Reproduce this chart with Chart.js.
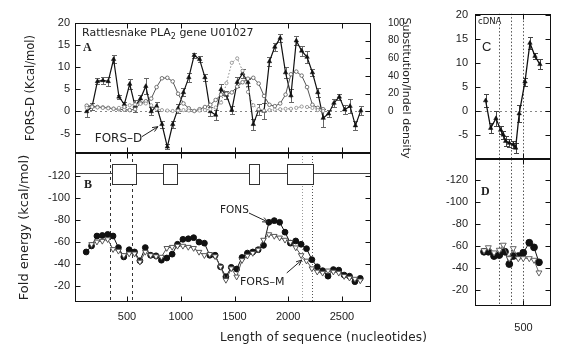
<!DOCTYPE html>
<html>
<head>
<meta charset="utf-8">
<script src="https://cdn.jsdelivr.net/npm/chart.js@4.4.1/dist/chart.umd.min.js"></script>
<style>
  html, body { margin: 0; padding: 0; background: #fff; }
  #wrap { position: relative; width: 564px; height: 348px; overflow: hidden; background: #fff; }
  #wrap canvas { position: absolute; left: 0; top: 0; }
  #xTitle { position: absolute; left: 220px; top: 330px; font: 12px "DejaVu Sans", sans-serif; letter-spacing: 0.2px; color: #222; white-space: nowrap; }
</style>
</head>
<body>
<div id="wrap">
  <canvas id="chartA" width="564" height="348"></canvas>
  <canvas id="chartB" width="564" height="348"></canvas>
  <canvas id="chartC" width="564" height="348"></canvas>
  <canvas id="chartD" width="564" height="348"></canvas>
  <div id="xTitle">Length of sequence (nucleotides)</div>
</div>
<script>
// tick labels
const lengthTicks = [500, 1000, 1500, 2000, 2500];
const forsDTicks = [-5, 0, 5, 10, 15, 20];
const densityTicks = [0, 20, 40, 60, 80, 100];
const foldTicks = [-120, -100, -80, -60, -40, -20];
const cdnaLengthTicks = [500];

// panel A: genomic FORS-D (kcal/mol) with error bars
const forsDPos = [125, 175, 225, 275, 325, 375, 425, 475, 525, 575, 625, 675, 725, 775, 825, 875, 925, 975, 1025, 1075,
  1125, 1175, 1225, 1275, 1325, 1375, 1425, 1475, 1525, 1575, 1625, 1675, 1725, 1775, 1825, 1875, 1925, 1975, 2025, 2075,
  2125, 2175, 2225, 2275, 2325, 2375, 2425, 2475, 2525, 2575, 2625, 2675];
const forsD = [0, 1.1, 6.8, 7.0, 6.8, 11.8, 3.3, 1.6, 6.2, 1.2, 2.9, 5.7, 0, 1.2, -2.9, -8.0, -2.9, 0.7, 4.3, 7.7,
  12.7, 11.8, 7.7, 0, -0.8, 5.0, 3.7, 0.3, 6.6, 8.6, 6.6, -2.9, 0.4, 0.1, 11.3, 14.6, 16.6, 8.8, 3.6, 16.0,
  13.7, 12.3, 8.8, 4.3, -1.5, -0.5, 1.9, 3.3, 0.4, 1.2, -3.2, 0.2];
const forsDErr = [1.3, 0.8, 0.7, 0.7, 1.0, 0.9, 0.5, 0.6, 1.1, 1.3, 0.8, 1.8, 0.9, 1.0, 0.8, 0.6, 0.8, 1.0, 0.9, 1.0,
  0.6, 0.7, 0.8, 1.0, 1.2, 1.3, 1.0, 0.9, 1.1, 1.0, 0.8, 1.2, 1.2, 1.9, 1.0, 0.9, 1.0, 1.2, 1.5, 1.0,
  1.2, 1.3, 0.8, 1.0, 2.0, 0.8, 1.0, 0.7, 1.0, 1.5, 1.0, 1.0];

// panel A: substitution and indel density (right axis)
const densityPos = [125, 175, 225, 275, 325, 375, 425, 475, 525, 575, 625, 675, 725, 775, 825, 875, 925, 975, 1025, 1075,
  1125, 1175, 1225, 1275, 1325, 1375, 1425, 1475, 1525, 1575, 1625, 1675, 1725, 1775, 1825, 1875, 1925, 1975, 2025, 2075,
  2125, 2175, 2225, 2275, 2325];
const substitutionDensity = [6.5, 6, 5, 4.5, 4, 3, 2.5, 2, 1.5, 2.5, 9.5, 11.5, 14.5, 27.5, 37.5, 38, 34, 20, 9, 3.5,
  0.5, 2.5, 5, 7.5, 13, 19, 20, 21.5, 28, 33, 37, 38, 31.5, 17.5, 7.5, 6, 9, 19, 42, 45,
  40.5, 27.5, 7.5, 4, 2.5];
const indelDensity = [4, 5, 4.5, 4, 3.5, 3, 4, 5, 7, 8, 8.5, 9, 7, 3, 1.5, 1, 0.5, 1, 1.5, 1,
  0.5, 1, 1.5, 2.5, 4.5, 10, 32, 55, 60, 46, 22, 7, 2.5, 1, 1.5, 2, 2.5, 3, 3, 4,
  5.5, 5, 4, 1.5, 0.5];

// panel B: fold energies (kcal/mol)
const fonsPos = [120, 170, 220, 270, 320, 370, 420, 470, 520, 570, 620, 670, 720, 770, 820, 870, 920, 970, 1020, 1070,
  1120, 1170, 1220, 1270, 1320, 1370, 1420, 1470, 1520, 1570, 1620, 1670, 1720, 1770, 1820, 1870, 1920, 1970, 2020, 2070,
  2120, 2170, 2220, 2270, 2320, 2370, 2420, 2470, 2520, 2570, 2620, 2670];
const fons = [-51, -56.5, -65.5, -66, -67, -65.5, -55, -46.5, -53, -51, -43, -55, -48, -47.5, -43.5, -45.5, -49, -58, -62.5, -63,
  -64, -60, -59, -48, -48, -37.5, -28.5, -37, -35.5, -46, -50, -51, -53, -57, -78, -79.5, -78, -69, -59, -61,
  -58, -54, -44, -37.5, -34, -29, -35, -34.5, -30, -29, -24, -27];
const forsMPos = [170, 220, 270, 320, 370, 420, 470, 520, 570, 620, 670, 720, 770, 820, 870, 920, 970, 1020, 1070,
  1120, 1170, 1220, 1270, 1320, 1370, 1420, 1470, 1520, 1570, 1620, 1670, 1720, 1770, 1820, 1870, 1920, 1970, 2020, 2070,
  2120, 2170, 2220, 2270, 2320, 2370, 2420, 2470, 2520, 2570, 2620, 2670];
const forsM = [-58, -60.3, -61, -62.5, -53.5, -52, -48, -49.5, -49.5, -42, -51, -48, -47, -46.5, -54.5, -55.5, -56.5, -56.5, -55.5,
  -54.5, -51, -48, -49, -47, -37.5, -25.5, -36, -28.5, -43.5, -47.5, -50, -53, -62, -67, -65.5, -64, -62, -60, -55,
  -48, -43, -36, -33, -32, -34, -33, -32, -29, -27.5, -26.5, -25];

// gene structure (exons, nucleotides) and boundary markers
const exons = [[361, 585], [835, 965], [1635, 1728], [1989, 2231]];
const genomicMarks = [342, 544, 2131, 2224];

// panels C and D: cDNA
const cdnaDPos = [148, 195, 244, 288, 312, 334, 368, 405, 427, 460, 514, 560, 607, 653];
const cdnaD = [2.2, -3.5, -1.5, -3.9, -4.9, -6.2, -6.6, -6.9, -7.6, -0.5, 6.1, 14.1, 11.4, 9.7];
const cdnaDErr = [1.3, 1.0, 1.6, 0.8, 0.8, 1.0, 0.9, 0.8, 1.0, 1.8, 0.8, 1.2, 0.7, 1.0];
const cdnaFonsPos = [133, 173, 226, 275, 328, 368, 405, 452, 498, 554, 598, 644];
const cdnaFons = [-54.8, -54.8, -50.9, -51.8, -54.8, -43.6, -50.9, -50.9, -53.9, -63, -58.8, -45.2];
const cdnaFmPos = [133, 173, 226, 275, 312, 368, 405, 452, 498, 554, 598, 644];
const cdnaFm = [-56, -58.7, -54, -56.4, -61, -48.8, -57.9, -48.8, -48.8, -48.8, -47.3, -35.8];
const cdnaMarks = [272, 388, 491];

Chart.defaults.font.family = "'Liberation Sans', Arial, sans-serif";
Chart.defaults.font.size = 11;
Chart.defaults.color = '#222';
Chart.defaults.plugins.legend.display = false;
Chart.defaults.plugins.tooltip.enabled = false;

const pts = (xs, ys) => xs.map((x, i) => ({ x: x, y: ys[i] }));
const fixedTicks = vals => scale => { scale.ticks = vals.map(v => ({ value: v })); };
const plainTick = v => String(v);
const noGrid = { display: false, drawTicks: false };
const SERIF = "bold 12px 'Liberation Serif', serif";
const DJ = "'DejaVu Sans', sans-serif";

// extra drawing per canvas: frame, inner ticks, reference lines, error bars, labels
const decor = {};

function arrow(ctx, x1, y1, x2, y2) {
  const ang = Math.atan2(y2 - y1, x2 - x1);
  ctx.beginPath();
  ctx.moveTo(x1, y1); ctx.lineTo(x2, y2);
  ctx.moveTo(x2, y2); ctx.lineTo(x2 - 6 * Math.cos(ang - 0.4), y2 - 6 * Math.sin(ang - 0.4));
  ctx.moveTo(x2, y2); ctx.lineTo(x2 - 6 * Math.cos(ang + 0.4), y2 - 6 * Math.sin(ang + 0.4));
  ctx.stroke();
}

const panelPlugin = {
  id: 'panelDecor',
  beforeDatasetsDraw(chart) {
    const d = decor[chart.canvas.id];
    if (!d) return;
    const { ctx, chartArea: a } = chart;
    const xs = chart.scales.x, ys = chart.scales.y;
    ctx.save();
    ctx.beginPath();
    ctx.rect(a.left, a.top, a.right - a.left, a.bottom - a.top);
    ctx.clip();
    ctx.lineWidth = 1;
    (d.hLines || []).forEach(l => {
      const py = Math.round(ys.getPixelForValue(l.value)) + 0.5;
      ctx.strokeStyle = l.color; ctx.setLineDash(l.dash);
      ctx.beginPath(); ctx.moveTo(a.left, py); ctx.lineTo(a.right, py); ctx.stroke();
    });
    (d.vLines || []).forEach(l => {
      const px = Math.round(xs.getPixelForValue(l.value)) + 0.5;
      ctx.strokeStyle = l.color; ctx.setLineDash(l.dash);
      ctx.beginPath(); ctx.moveTo(px, a.top); ctx.lineTo(px, a.bottom); ctx.stroke();
    });
    ctx.setLineDash([]);
    if (d.gene) {
      const g = d.gene;
      const py = Math.round(ys.getPixelForValue(g.level)) + 0.5;
      ctx.strokeStyle = '#444';
      ctx.beginPath(); ctx.moveTo(a.left, py); ctx.lineTo(a.right, py); ctx.stroke();
      const t = Math.round(ys.getPixelForValue(g.top)) + 0.5;
      const b = Math.round(ys.getPixelForValue(g.bottom)) + 0.5;
      g.exons.forEach(e => {
        const l = Math.round(xs.getPixelForValue(e[0])) + 0.5;
        const r = Math.round(xs.getPixelForValue(e[1])) + 0.5;
        ctx.fillStyle = '#fff'; ctx.fillRect(l, t, r - l, b - t);
        ctx.strokeStyle = '#333'; ctx.strokeRect(l, t, r - l, b - t);
      });
    }
    (d.errorBars || []).forEach(eb => {
      ctx.strokeStyle = eb.color; ctx.lineWidth = 1;
      ctx.beginPath();
      eb.pos.forEach((p, i) => {
        const px = Math.round(xs.getPixelForValue(p)) + 0.5;
        const y1 = Math.round(ys.getPixelForValue(eb.val[i] + eb.err[i])) + 0.5;
        const y2 = Math.round(ys.getPixelForValue(eb.val[i] - eb.err[i])) + 0.5;
        ctx.moveTo(px, y1); ctx.lineTo(px, y2);
        ctx.moveTo(px - 2.5, y1); ctx.lineTo(px + 2.5, y1);
        ctx.moveTo(px - 2.5, y2); ctx.lineTo(px + 2.5, y2);
      });
      ctx.stroke();
    });
    ctx.restore();
  },
  afterDatasetsDraw(chart) {
    const d = decor[chart.canvas.id];
    if (!d) return;
    const { ctx, chartArea: a } = chart;
    const xs = chart.scales.x, ys = chart.scales.y;
    const L = Math.round(a.left) + 0.5, R = Math.round(a.right) - 0.5;
    const T = Math.round(a.top) + 0.5, B = Math.round(a.bottom) - 0.5;
    const len = 5;
    ctx.save();
    ctx.strokeStyle = '#111'; ctx.lineWidth = 1; ctx.setLineDash([]);
    ctx.strokeRect(L, T, R - L, B - T);
    ctx.beginPath();
    d.frame.xTicks.forEach(v => {
      const p = Math.round(xs.getPixelForValue(v)) + 0.5;
      ctx.moveTo(p, T); ctx.lineTo(p, T + len);
      ctx.moveTo(p, B); ctx.lineTo(p, B - len);
    });
    d.frame.yTicks.forEach(v => {
      const p = Math.round(ys.getPixelForValue(v)) + 0.5;
      ctx.moveTo(L, p); ctx.lineTo(L + len, p);
      if (!d.frame.rightScale) { ctx.moveTo(R, p); ctx.lineTo(R - len, p); }
    });
    if (d.frame.rightScale) {
      const rs = chart.scales[d.frame.rightScale];
      d.frame.rightTicks.forEach(v => {
        const p = Math.round(rs.getPixelForValue(v)) + 0.5;
        ctx.moveTo(R, p); ctx.lineTo(R - len, p);
      });
    }
    ctx.stroke();
    ctx.fillStyle = '#222';
    ctx.textBaseline = 'middle';
    ctx.textAlign = 'left';
    (d.texts || []).forEach(t => {
      let cx = xs.getPixelForValue(t.at[0]);
      const cy = ys.getPixelForValue(t.at[1]);
      t.parts.forEach(part => {
        ctx.font = part.font;
        ctx.fillText(part.text, cx, cy + (part.dy || 0));
        cx += ctx.measureText(part.text).width;
      });
    });
    ctx.strokeStyle = '#222';
    (d.arrows || []).forEach(ar => {
      arrow(ctx, xs.getPixelForValue(ar.from[0]), ys.getPixelForValue(ar.from[1]),
        xs.getPixelForValue(ar.to[0]), ys.getPixelForValue(ar.to[1]));
    });
    ctx.restore();
  }
};

const baseOptions = (padding, scales) => ({
  responsive: false,
  animation: false,
  devicePixelRatio: 1,
  events: [],
  layout: { padding: padding },
  scales: scales,
  plugins: { legend: { display: false }, tooltip: { enabled: false } }
});

const hiddenX = (min, max) => ({
  type: 'linear', min: min, max: max, ticks: { display: false },
  grid: noGrid, border: { display: false },
  afterFit: s => { s.height = 0; }
});

// ---------- panel A ----------
decor.chartA = {
  frame: { xTicks: lengthTicks, yTicks: forsDTicks, rightScale: 'y2', rightTicks: densityTicks },
  hLines: [{ value: 0, color: '#888', dash: [2, 3] }],
  errorBars: [{ pos: forsDPos, val: forsD, err: forsDErr, color: '#666' }],
  texts: [
    { at: [81, 17.6], parts: [
      { text: 'Rattlesnake PLA', font: '11px ' + DJ },
      { text: '2', font: '8px ' + DJ, dy: 3 },
      { text: ' gene U01027', font: '11px ' + DJ }] },
    { at: [90, 14.45], parts: [{ text: 'A', font: SERIF }] },
    { at: [200, -6.1], parts: [{ text: 'FORS\u2013D', font: '12px ' + DJ }] }
  ],
  arrows: [{ from: [639, -5.7], to: [788, -3.44] }]
};
new Chart(document.getElementById('chartA'), {
  type: 'line',
  data: {
    datasets: [
      { data: pts(densityPos, indelDensity), yAxisID: 'y2', borderColor: '#888', borderWidth: 1, borderDash: [1.5, 2],
        pointRadius: 1.6, pointBorderWidth: 0.8, pointBackgroundColor: '#fff', pointBorderColor: '#888' },
      { data: pts(densityPos, substitutionDensity), yAxisID: 'y2', borderColor: '#555', borderWidth: 1,
        pointRadius: 1.8, pointBorderWidth: 0.8, pointBackgroundColor: '#fff', pointBorderColor: '#555' },
      { data: pts(forsDPos, forsD), yAxisID: 'y', borderColor: '#111', borderWidth: 1.2,
        pointStyle: 'triangle', pointRadius: 2.6, pointBackgroundColor: '#111', pointBorderColor: '#111', pointBorderWidth: 0.5 }
    ]
  },
  options: baseOptions({ left: 5, right: 152, top: 10, bottom: 195 }, {
    x: hiddenX(16, 2770),
    y: {
      type: 'linear', position: 'left', min: -9.4, max: 20,
      afterBuildTicks: fixedTicks(forsDTicks),
      ticks: { padding: 5, callback: plainTick },
      grid: noGrid, border: { display: false },
      title: { display: true, text: 'FORS-D (Kcal/mol)', color: '#222', font: { family: DJ, size: 11.5 }, padding: { top: 19, bottom: 0 } },
      afterFit: s => { s.width = 70; }
    },
    y2: {
      type: 'linear', position: 'right', min: -47, max: 100,
      afterBuildTicks: fixedTicks(densityTicks),
      ticks: { padding: 17, crossAlign: 'near', font: { size: 10 }, callback: plainTick },
      grid: noGrid, border: { display: false },
      title: { display: true, text: 'Substitution/Indel density', color: '#222', font: { family: DJ, size: 11 }, padding: { top: 0, bottom: 0 } },
      afterFit: s => { s.width = 41; }
    }
  }),
  plugins: [panelPlugin]
});

// ---------- panel B ----------
decor.chartB = {
  frame: { xTicks: lengthTicks, yTicks: foldTicks },
  vLines: [
    { value: genomicMarks[0], color: '#333', dash: [3, 3] },
    { value: genomicMarks[1], color: '#333', dash: [3, 3] },
    { value: genomicMarks[2], color: '#999', dash: [1, 2] },
    { value: genomicMarks[3], color: '#555', dash: [1, 2] }
  ],
  gene: { level: -123, top: -131, bottom: -113, exons: exons },
  texts: [
    { at: [100, -111.9], parts: [{ text: 'B', font: SERIF }] },
    { at: [1365, -89.2], parts: [{ text: 'FONS', font: '10.5px ' + DJ }] },
    { at: [1551, -23.7], parts: [{ text: 'FORS\u2013M', font: '11px ' + DJ }] }
  ],
  arrows: [
    { from: [1635, -86.4], to: [1812, -78.2] },
    { from: [1986, -31.9], to: [2126, -43.7] }
  ]
};
new Chart(document.getElementById('chartB'), {
  type: 'line',
  data: {
    datasets: [
      { data: pts(forsMPos, forsM), borderColor: '#555', borderWidth: 1,
        pointStyle: 'triangle', pointRotation: 180, pointRadius: 3.2, pointBorderWidth: 0.9,
        pointBackgroundColor: '#fff', pointBorderColor: '#444' },
      { data: pts(fonsPos, fons), borderColor: '#111', borderWidth: 1,
        pointRadius: 2.9, pointBackgroundColor: '#111', pointBorderColor: '#111' }
    ]
  },
  options: baseOptions({ left: 5, right: 193, top: 153, bottom: 0 }, {
    x: {
      type: 'linear', min: 16, max: 2770,
      afterBuildTicks: fixedTicks(lengthTicks),
      ticks: { padding: 8.4, callback: plainTick },
      grid: noGrid, border: { display: false },
      afterFit: s => { s.height = 46; }
    },
    y: {
      type: 'linear', position: 'left', reverse: true, min: -141, max: -5.5,
      afterBuildTicks: fixedTicks(foldTicks),
      ticks: { padding: 5, callback: plainTick },
      grid: noGrid, border: { display: false },
      title: { display: true, text: 'Fold energy (kcal/mol)', color: '#222', font: { family: DJ, size: 13 }, padding: { top: 12.2, bottom: 0 } },
      afterFit: s => { s.width = 70; }
    }
  }),
  plugins: [panelPlugin]
});

// ---------- panel C ----------
decor.chartC = {
  frame: { xTicks: cdnaLengthTicks, yTicks: forsDTicks },
  hLines: [{ value: 0, color: '#888', dash: [2, 3] }],
  vLines: cdnaMarks.map(v => ({ value: v, color: '#555', dash: [1.5, 2] })),
  errorBars: [{ pos: cdnaDPos, val: cdnaD, err: cdnaDErr, color: '#444' }],
  texts: [
    { at: [77, 18.4], parts: [{ text: 'cDNA', font: '8.5px ' + DJ }] },
    { at: [114, 13.3], parts: [{ text: 'C', font: "13px 'Liberation Sans', sans-serif" }] }
  ]
};
new Chart(document.getElementById('chartC'), {
  type: 'line',
  data: {
    datasets: [
      { data: pts(cdnaDPos, cdnaD), borderColor: '#111', borderWidth: 1.3,
        pointStyle: 'triangle', pointRadius: 2.6, pointBackgroundColor: '#111', pointBorderColor: '#111', pointBorderWidth: 0.5 }
    ]
  },
  options: baseOptions({ left: 420, right: 13, top: 11, bottom: 189 }, {
    x: hiddenX(49, 756),
    y: {
      type: 'linear', position: 'left', min: -9.9, max: 20.2,
      afterBuildTicks: fixedTicks(forsDTicks),
      ticks: { padding: 7, callback: plainTick },
      grid: noGrid, border: { display: false },
      afterFit: s => { s.width = 55; }
    }
  }),
  plugins: [panelPlugin]
});

// ---------- panel D ----------
decor.chartD = {
  frame: { xTicks: cdnaLengthTicks, yTicks: foldTicks },
  vLines: cdnaMarks.map(v => ({ value: v, color: '#555', dash: [1.5, 2] })),
  texts: [
    { at: [105, -109.1], parts: [{ text: 'D', font: SERIF }] }
  ]
};
new Chart(document.getElementById('chartD'), {
  type: 'line',
  data: {
    datasets: [
      { data: pts(cdnaFmPos, cdnaFm), borderColor: '#666', borderWidth: 1,
        pointStyle: 'triangle', pointRotation: 180, pointRadius: 3.4, pointBorderWidth: 0.9,
        pointBackgroundColor: '#fff', pointBorderColor: '#555' },
      { data: pts(cdnaFonsPos, cdnaFons), borderColor: '#111', borderWidth: 1,
        pointRadius: 3.4, pointBackgroundColor: '#111', pointBorderColor: '#111' }
    ]
  },
  options: baseOptions({ left: 420, right: 13, top: 159, bottom: 0 }, {
    x: {
      type: 'linear', min: 49, max: 756,
      afterBuildTicks: fixedTicks(cdnaLengthTicks),
      ticks: { padding: 15.4, callback: plainTick },
      grid: noGrid, border: { display: false },
      afterFit: s => { s.height = 42; }
    },
    y: {
      type: 'linear', position: 'left', reverse: true, min: -139.1, max: -5.5,
      afterBuildTicks: fixedTicks(foldTicks),
      ticks: { padding: 7, callback: plainTick },
      grid: noGrid, border: { display: false },
      afterFit: s => { s.width = 55; }
    }
  }),
  plugins: [panelPlugin]
});
</script>
</body>
</html>
